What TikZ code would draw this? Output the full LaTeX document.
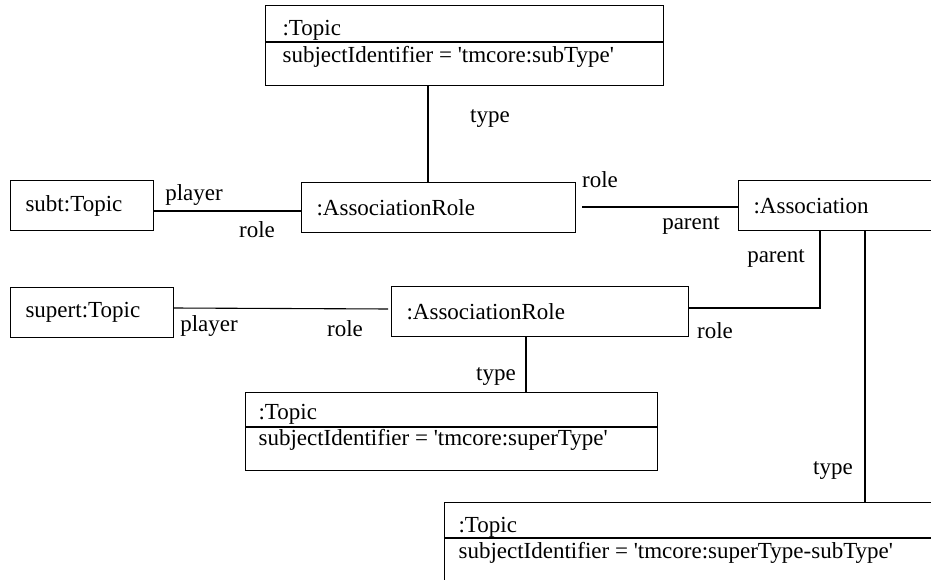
\documentclass[tikz,border=0pt]{standalone}
\usepackage{fontspec}
\setmainfont{Liberation Serif}[Ligatures=TeXOff]
\usetikzlibrary{positioning}

\begin{document}
\begin{tikzpicture}[x=0.5pt, y=-0.5pt, line width=0.55pt,
    font=\fontsize{11.5}{13}\selectfont,
    objbox/.style={draw, anchor=north west, minimum height=25pt, inner xsep=7.5pt, inner ysep=0pt, align=left},
    classbox/.style={draw, anchor=north west, inner sep=0pt},
    objtext/.style={anchor=base west, inner sep=0pt},
    rolename/.style={inner sep=0pt}]
  \useasboundingbox (0,0) rectangle (931,579);
  \clip (0,0) rectangle (931,579);

  % topics with a subject identifier
  \node (subtype) [classbox, minimum width=199pt, minimum height=40pt] at (265,5) {};
  \draw (subtype.west |- 0,42) -- (subtype.east |- 0,42);
  \node [objtext] at (282,35) {:Topic};
  \node [objtext] at (282,62) {subjectIdentifier = 'tmcore:subType'};

  \node (supertype) [classbox, minimum width=206pt, minimum height=39pt] at (245,392) {};
  \draw (supertype.west |- 0,427) -- (supertype.east |- 0,427);
  \node [objtext] at (258,419) {:Topic};
  \node [objtext] at (258,445) {subjectIdentifier = 'tmcore:superType'};

  \node (asstype) [classbox, minimum width=250pt, minimum height=40pt] at (444,502) {};
  \draw (asstype.west |- 0,538) -- (asstype.east |- 0,538);
  \node [objtext] at (458,532) {:Topic};
  \node [objtext] at (458,558) {subjectIdentifier = 'tmcore:superType-subType'};

  % players, roles and the association
  \node (subt) [objbox, text width=56.5pt] at (10,180) {subt:Topic};
  \node (role1) [objbox, text width=122pt] at (301,182) {:AssociationRole};
  \node (assoc) [objbox, text width=110pt] at (738,180) {:Association};
  \node (supert) [objbox, text width=66.5pt] at (10,287) {supert:Topic};
  \node (role2) [objbox, text width=133.5pt] at (391,286) {:AssociationRole};

  % connectors
  \draw (subtype.south -| 428,0) -- (role1.north -| 428,0);
  \draw (subt.east |- 0,211) -- (role1.west |- 0,211);
  \draw [shorten <=3pt] (role1.east |- 0,207) -- (assoc.west |- 0,207);
  \draw [shorten >=1.5pt] (supert.east |- 0,308) -- (role2.west |- 0,309);
  \draw (role2.east |- 0,308) -| (assoc.south -| 820,0);
  \draw (role2.south -| 526,0) -- (supertype.north -| 526,0);
  \draw (assoc.south -| 865,0) -- (asstype.north -| 865,0);

  % role names
  \node [rolename] at (490,119) {type};
  \node [rolename] at (194,195) {player};
  \node [rolename] at (257,230) {role};
  \node [rolename] at (600,180) {role};
  \node [rolename] at (691,225) {parent};
  \node [rolename] at (776,258) {parent};
  \node [rolename] at (715,331) {role};
  \node [rolename] at (209,326) {player};
  \node [rolename] at (345,329) {role};
  \node [rolename] at (496,376) {type};
  \node [rolename] at (833,470) {type};
\end{tikzpicture}
\end{document}
